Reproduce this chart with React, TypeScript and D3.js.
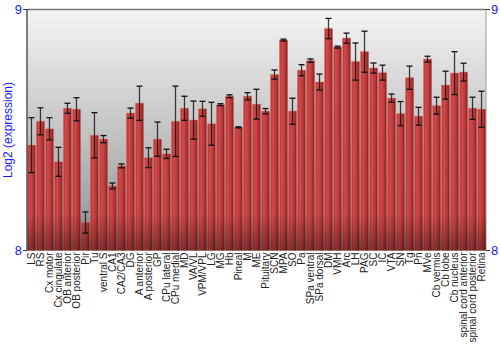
import React from "react";
import * as d3 from "d3";

const categories = ["LS","RS","Cx motor","Cx cingulate","OB anterior","OB posterior","Pir","Tu","ventral S","CA1","CA2/CA3","DG","A anterior","A posterior","GP","CPu lateral","CPu medial","MD","VA/VL","VPM/VPL","LG","MG","Hb","Pineal","M","ME","Pituitary","SCN","MPA","SO","Pa","SPa ventral","SPa dorsal","DM","VMH","Arc","LH","PAG","SC","IC","VTA","SN","Tg","Pn","MVe","Cb vermis","Cb lobe","Cb nucleus","spinal cord anterior","spinal cord posterior","Retina"];

const values = [8.437,8.536,8.505,8.368,8.590,8.586,8.116,8.478,8.462,8.268,8.351,8.570,8.611,8.385,8.462,8.401,8.536,8.590,8.541,8.588,8.526,8.605,8.640,8.511,8.640,8.607,8.578,8.730,8.873,8.578,8.748,8.788,8.699,8.921,8.844,8.881,8.784,8.825,8.757,8.738,8.632,8.568,8.717,8.557,8.794,8.601,8.686,8.736,8.740,8.590,8.586];

const errors = [0.114,0.056,0.046,0.060,0.021,0.048,0.044,0.094,0.015,0.012,0.008,0.021,0.071,0.041,0.071,0.019,0.146,0.050,0.079,0.031,0.089,0.004,0.006,0.002,0.015,0.062,0.011,0.019,0.004,0.054,0.023,0.007,0.033,0.042,0.004,0.021,0.077,0.085,0.021,0.031,0.017,0.050,0.048,0.037,0.012,0.035,0.058,0.089,0.037,0.046,0.075];

const yTicks = [8, 9];
const yLabel = "Log2 (expression)";

const W = 500, H = 350;
const L = 27, R = 486, T = 9.5, B = 250.5;

export default function App() {
  const x = d3.scaleBand<string>().domain(categories).range([L, R]).paddingInner(0.11).paddingOuter(0.05);
  const y = d3.scaleLinear().domain([8, 9]).range([B, T]);
  const bw = x.bandwidth();
  const font = "'Liberation Sans', Arial, sans-serif";
  return (
    <svg width={W} height={H} style={{ position: "absolute", left: 0, top: 0, background: "#fff" }} fontFamily={font}>
      <defs>
        <linearGradient id="bg" x1="0" y1="0" x2="0" y2="1">
          <stop offset="0" stopColor="#f4f4f4" />
          <stop offset="0.5" stopColor="#c4c4c4" />
          <stop offset="1" stopColor="#8e8e8e" />
        </linearGradient>
        <linearGradient id="bar" x1="0" y1="0" x2="1" y2="0">
          <stop offset="0" stopColor="#b83434" />
          <stop offset="0.3" stopColor="#d24a4a" />
          <stop offset="0.7" stopColor="#b83636" />
          <stop offset="1" stopColor="#8a1e1e" />
        </linearGradient>
        <linearGradient id="shade" x1="0" y1="0" x2="0" y2="1">
          <stop offset="0" stopColor="#000" stopOpacity="0" />
          <stop offset="0.85" stopColor="#000" stopOpacity="0" />
          <stop offset="1" stopColor="#000" stopOpacity="0.35" />
        </linearGradient>
      </defs>
      <rect x={L} y={T} width={R - L} height={B - T} fill="url(#bg)" />
      <line x1={L} x2={R} y1={T} y2={T} stroke="#777" strokeWidth={1.5} />
      <line x1={R} x2={R} y1={T} y2={B} stroke="#999" strokeWidth={1} />
      {categories.map((c, i) => {
        const x0 = x(c)!;
        const yt = y(values[i]);
        return (
          <g key={c}>
            <rect x={x0 - 0.5} y={yt - 1} width={bw + 1} height={B - yt + 1} fill="#e9a0a0" opacity={0.45} />
            <rect x={x0} y={yt} width={bw} height={B - yt} fill="url(#bar)" />
          </g>
        );
      })}
      <rect x={L} y={T} width={R - L} height={B - T} fill="url(#shade)" />
      {categories.map((c, i) => {
        const cx = x(c)! + bw / 2;
        const y1 = y(values[i] + errors[i]);
        const y2 = y(values[i] - errors[i]);
        return (
          <g key={"e" + c} stroke="#111" strokeWidth={1.3}>
            <line x1={cx} x2={cx} y1={y1} y2={y2} strokeOpacity={0.8} />
            <line x1={cx - 3} x2={cx + 3} y1={y1} y2={y1} />
            <line x1={cx - 3} x2={cx + 3} y1={y2} y2={y2} />
          </g>
        );
      })}
      <line x1={L} x2={L} y1={T} y2={B} stroke="#555" strokeWidth={1.5} />
      {yTicks.map((t) => (
        <g key={t}>
          <line x1={L - 4} x2={L} y1={y(t)} y2={y(t)} stroke="#333" />
          <line x1={R} x2={R + 4} y1={y(t)} y2={y(t)} stroke="#333" />
          <text x={L - 5} y={y(t)} dy="0.35em" textAnchor="end" fill="#1a1aff" fontSize={13}>{t}</text>
          <text x={R + 5} y={y(t)} dy="0.35em" textAnchor="start" fill="#1a1aff" fontSize={13}>{t}</text>
        </g>
      ))}
      <text transform={`translate(12,${(T + B) / 2}) rotate(-90)`} textAnchor="middle" fill="#1a1aff" fontSize={12}>{yLabel}</text>
      {categories.map((c) => (
        <text key={"l" + c} transform={`translate(${x(c)! + bw / 2 + 3.5},${B + 2}) rotate(-90)`} textAnchor="end" fill="#222" fontSize={10}>{c}</text>
      ))}
    </svg>
  );
}
